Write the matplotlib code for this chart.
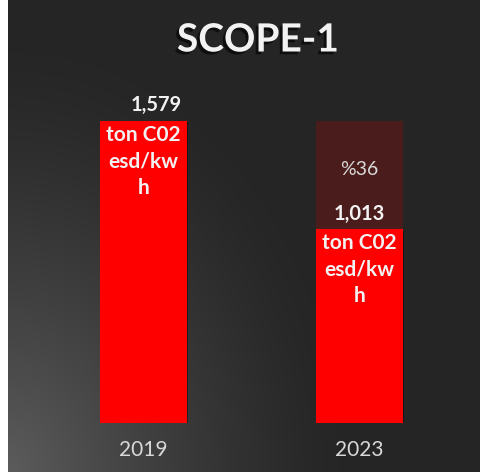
import numpy as np
import matplotlib.pyplot as plt
import matplotlib.patheffects as pe

years = ['2019', '2023']
emissions = [1579, 1013]
reduction = [0, 1579 - 1013]
value_labels = ['1,579', '1,013']
unit_label = 'ton C02\nesd/kw\nh'
pct_label = '%36'

plt.rcParams['font.family'] = ['Lato', 'DejaVu Sans']

W, H = 481, 472
fig = plt.figure(figsize=(W / 100, H / 100), dpi=100)
fig.patch.set_facecolor('white')

# background with light glow from the bottom-left corner
bg = fig.add_axes([8 / W, 0, 1 - 8 / W, 1])
yy, xx = np.mgrid[0:H, 0:W - 8]
d = np.sqrt((xx / 330.0) ** 2 + ((H - yy) / 420.0) ** 2)
t = np.clip(d, 0, 1)
lum = 0.36 * (1 - t) ** 1.3 + 0.149 * (1 - (1 - t) ** 1.3)
lum = np.maximum(lum, 0.149)
bg.imshow(np.dstack([lum, lum, lum]), aspect='auto', origin='upper')
bg.axis('off')

ax = fig.add_axes([35.5 / W, 49 / H, 432 / W, (2000 * 302 / 1579) / H])
ax.set_facecolor('none')
x = np.arange(len(years))
shadow = [pe.SimplePatchShadow(offset=(1, -1), shadow_rgbFace='black', alpha=0.4), pe.Normal()]
ax.bar(x, emissions, width=0.4, color='#ff0000', path_effects=shadow, zorder=2)
ax.bar(x, reduction, bottom=emissions, width=0.4, color='#4b1c1c', zorder=2)
ax.set_xlim(-0.5, 1.5)
ax.set_ylim(0, 2000)
ax.axis('off')

light = '#f2f2f2'
ax.text(0.06, emissions[0] + 30, value_labels[0], ha='center', va='bottom',
        fontsize=14.5, fontweight='bold', color=light)
ax.text(0, emissions[0] - 20, unit_label, ha='center', va='top',
        fontsize=15, fontweight='bold', color=light, linespacing=1.4)

ax.text(1, emissions[1] + 30, value_labels[1], ha='center', va='bottom',
        fontsize=14.5, fontweight='bold', color=light)
ax.text(1, emissions[1] - 20, unit_label, ha='center', va='top',
        fontsize=15, fontweight='bold', color=light, linespacing=1.4)
ax.text(1, emissions[1] + reduction[1] * 0.55, pct_label, ha='center', va='center',
        fontsize=14, color='#d9d9d9')

for xi, yr in zip(x, years):
    ax.text(xi, -140, yr, ha='center', va='center', fontsize=15, color='#d9d9d9')

fig.text(258 / W, 1 - 40 / H, 'SCOPE-1', ha='center', va='center', fontsize=28,
         fontweight='bold', color='#f2f2f2',
         path_effects=[pe.withSimplePatchShadow(offset=(-2, -2), shadow_rgbFace='black', alpha=0.6)])

fig.savefig('out.png', dpi=100)
